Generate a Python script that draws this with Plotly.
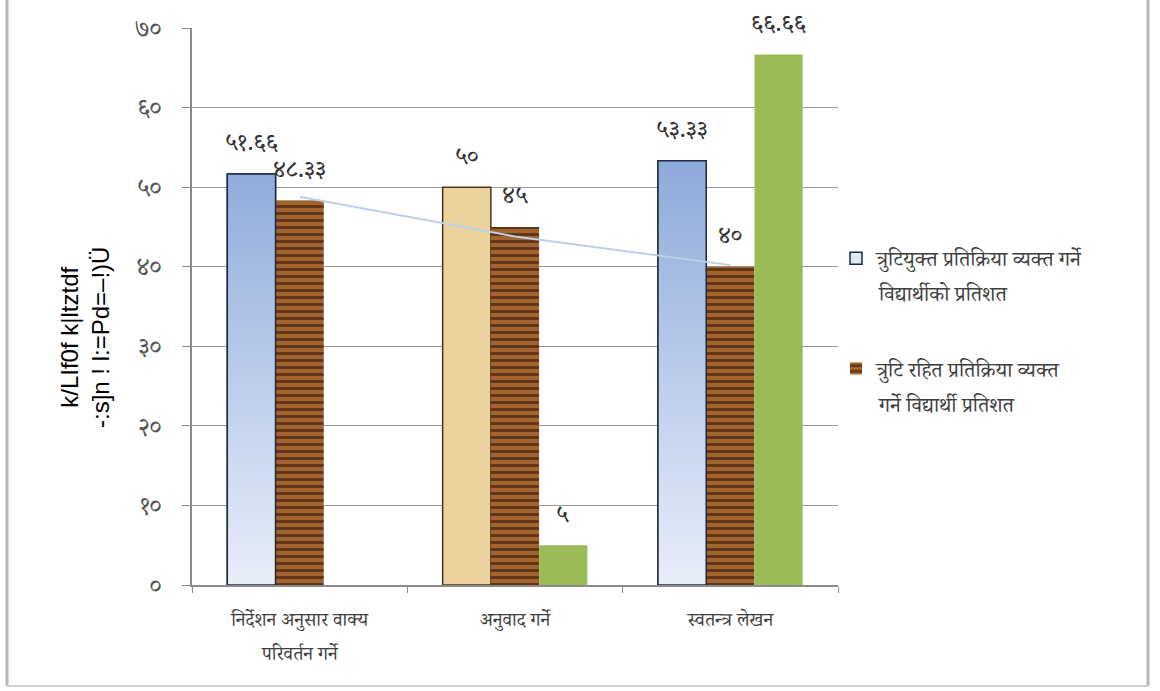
import plotly.graph_objects as go

# Categories and series values
categories = ["निर्देशन अनुसार वाक्य", "अनुवाद गर्ने", "स्वतन्त्र लेखन"]
category_second_lines = ["परिवर्तन गर्ने", "", ""]
with_errors = [51.66, 50, 53.33]
error_free = [48.33, 45, 40]
third_series = [0, 5, 66.66]
trend_values = [48.8, 43.8, 40.2]

# Value labels written in Devanagari digits
labels_with_errors = ["५१.६६", "५०", "५३.३३"]
labels_error_free = ["४८.३३", "४५", "४०"]
labels_third = ["", "५", "६६.६६"]

y_ticks = [0, 10, 20, 30, 40, 50, 60, 70]
y_tick_labels = ["०", "१०", "२०", "३०", "४०", "५०", "६०", "७०"]

# Legend names (first line in the legend, second line written below it)
name_with_errors = ["त्रुटियुक्त प्रतिक्रिया व्यक्त गर्ने", "विद्यार्थीको प्रतिशत"]
name_error_free = ["त्रुटि रहित प्रतिक्रिया व्यक्त", "गर्ने विद्यार्थी प्रतिशत"]
axis_title = "k/LIf0f k|ltztdf<br>-:s]n ! l:=Pd=–!)Ü"

DEVA = "Noto Serif Devanagari, Noto Sans Devanagari, Lohit Devanagari, FreeSerif, serif"

# Plot area in pixels, used to place paper-anchored extras
PL, PR, PT, PB = 192, 838, 28, 585


def px_x(px):
    return (px - PL) / (PR - PL)


def px_y(py):
    return (PB - py) / (PB - PT)


W = 0.224  # bar width in category units
idx = list(range(len(categories)))
x1 = [i - W for i in idx]
x2 = [i for i in idx]
x3 = [i + W for i in idx]

fig = go.Figure()

fig.add_trace(go.Bar(
    x=x1, y=with_errors, width=W, name=name_with_errors[0],
    marker=dict(color=["#dbe5f4", "#ebd39e", "#dbe5f4"],
                line=dict(color=["#1f2a44", "#4a3316", "#1f2a44"], width=1.5)),
    legendgroup="a",
))
fig.add_trace(go.Bar(
    x=x2, y=error_free, width=W, name=name_error_free[0],
    marker=dict(color="#a2632c",
                pattern=dict(shape="-", fgcolor="#45220f", fgopacity=0.75,
                             size=7, solidity=0.4, fillmode="overlay"),
                line=dict(width=0)),
    legendgroup="b",
))
fig.add_trace(go.Bar(
    x=x3, y=third_series, width=W, name="श्रृंखला ३", showlegend=False,
    marker=dict(color="#9bbb59", line=dict(width=0)),
))

# Vertical gradient over the blue bars (first and third category)
gx, gy = [], []
for i in (0, 2):
    left, right = x1[i] - W / 2, x1[i] + W / 2
    gx += [left, left, right, right, left, None]
    gy += [0, with_errors[i], with_errors[i], 0, 0, None]
fig.add_trace(go.Scatter(
    x=gx, y=gy, mode="lines", fill="toself", showlegend=False, hoverinfo="skip",
    line=dict(color="#1f2a44", width=1.5),
    fillgradient=dict(type="vertical",
                      colorscale=[[0, "#e8eef9"], [1, "#8eaadb"]]),
))

# Light trend line across the error-free series
fig.add_trace(go.Scatter(
    x=x2, y=trend_values, mode="lines", showlegend=False, hoverinfo="skip",
    line=dict(color="#bcd0ea", width=2),
))

# Value labels above the bars
for xs, vals, labs in ((x1, with_errors, labels_with_errors),
                       (x2, error_free, labels_error_free),
                       (x3, third_series, labels_third)):
    for x, v, t in zip(xs, vals, labs):
        if t:
            fig.add_annotation(x=x, y=v, text=t, showarrow=False, yshift=27,
                               font=dict(family=DEVA, size=24, color="#333333"))

# Second lines of wrapped category labels
for i, t in zip(idx, category_second_lines):
    if t:
        fig.add_annotation(x=i, xref="x", yref="paper", y=px_y(657), text=t,
                           showarrow=False, yanchor="middle",
                           font=dict(family=DEVA, size=19, color="#404040"))

# Second lines of the legend entries
for line2, py in ((name_with_errors[1], 297), (name_error_free[1], 408)):
    fig.add_annotation(xref="paper", yref="paper", x=px_x(876), y=px_y(py),
                       text=line2, showarrow=False, xanchor="left", yanchor="middle",
                       font=dict(family=DEVA, size=21, color="#404040"))

fig.add_annotation(xref="paper", yref="paper", x=px_x(85), y=px_y(338), text=axis_title,
                   textangle=-90, showarrow=False, xanchor="center", yanchor="middle",
                   font=dict(family="Liberation Sans, Arial", size=24, color="#000000"))

# Outer frame
fl, fr, fb = px_x(7), px_x(1148), px_y(686)
fig.add_shape(type="line", xref="paper", yref="paper", x0=fl, x1=fl, y0=fb, y1=px_y(0),
              line=dict(color="#b8b8b8", width=3))
fig.add_shape(type="line", xref="paper", yref="paper", x0=fr, x1=fr, y0=fb, y1=px_y(0),
              line=dict(color="#b8b8b8", width=3))
fig.add_shape(type="line", xref="paper", yref="paper", x0=fl, x1=fr, y0=fb, y1=fb,
              line=dict(color="#d0d0d0", width=2))

fig.update_layout(
    width=1160, height=691,
    margin=dict(l=PL, r=1160 - PR, t=PT, b=691 - PB),
    paper_bgcolor="white", plot_bgcolor="white",
    barmode="overlay",
    showlegend=True,
    legend=dict(x=px_x(836), y=px_y(238), xanchor="left", yanchor="top",
                font=dict(family=DEVA, size=21, color="#404040"),
                traceorder="grouped", tracegroupgap=80, valign="middle",
                bgcolor="rgba(0,0,0,0)"),
    xaxis=dict(range=[-0.5, 2.5], tickvals=idx, ticktext=categories,
               showgrid=False, showline=True, linecolor="#8a8a8a", linewidth=1.5,
               ticks="", tickfont=dict(family=DEVA, size=19, color="#404040"),
               ticklabelstandoff=16, zeroline=False,
               minor=dict(tickvals=[-0.5, 0.5, 1.5, 2.5], ticks="outside",
                          ticklen=6, tickcolor="#8a8a8a", showgrid=False)),
    yaxis=dict(range=[0, 70], tickvals=y_ticks, ticktext=y_tick_labels,
               showgrid=True, gridcolor="#9a9a9a", gridwidth=1,
               showline=True, linecolor="#8a8a8a", linewidth=1.5,
               ticks="outside", ticklen=8, tickcolor="#8a8a8a",
               tickfont=dict(family=DEVA, size=25, color="#555555"),
               ticklabelstandoff=16, zeroline=False),
)

fig.write_html("out.html")
